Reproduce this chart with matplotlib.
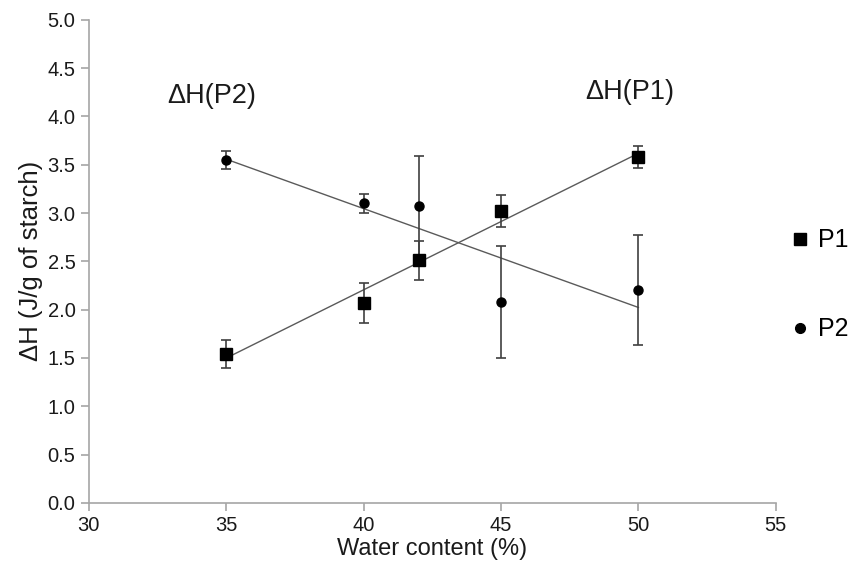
import numpy as np
import matplotlib
matplotlib.use("Agg")
import matplotlib.pyplot as plt
from matplotlib.lines import Line2D

plt.rcParams['font.family'] = ['Liberation Sans', 'DejaVu Sans']

# data
water = [35, 40, 42, 45, 50]
p1 = [1.54, 2.07, 2.51, 3.02, 3.58]
p1_err = [0.145, 0.21, 0.20, 0.165, 0.11]
p2 = [3.55, 3.10, 3.07, 2.08, 2.20]
p2_err = [0.095, 0.095, 0.52, 0.58, 0.57]

grey = '#a6a6a6'
dark = '#404040'

fig = plt.figure(figsize=(8.62, 5.65), dpi=100)
ax = fig.add_axes([0.103, 0.110, 0.797, 0.855])

# linear trend lines
xs = np.array([water[0], water[-1]])
for y in (p1, p2):
    k, b = np.polyfit(water, y, 1)
    ax.plot(xs, k * xs + b, color='#5a5a5a', lw=1.0, zorder=2)

ax.errorbar(water, p1, yerr=p1_err, fmt='s', color='black', ms=8,
            ecolor=dark, elinewidth=1.2, capsize=3.5, capthick=1.2, zorder=3)
ax.errorbar(water, p2, yerr=p2_err, fmt='o', color='black', ms=6.5,
            ecolor=dark, elinewidth=1.2, capsize=3.5, capthick=1.2, zorder=3)

ax.set_xlim(30, 55)
ax.set_ylim(0, 5)
ax.set_xticks([30, 35, 40, 45, 50, 55])
ax.set_yticks(np.arange(0, 5.01, 0.5))
ax.set_yticklabels(['%.1f' % v for v in np.arange(0, 5.01, 0.5)])

for s in ('top', 'right'):
    ax.spines[s].set_visible(False)
for s in ('left', 'bottom'):
    ax.spines[s].set_color(grey)
    ax.spines[s].set_linewidth(1.2)
ax.tick_params(colors=grey, labelcolor='#1a1a1a', labelsize=14.5,
               length=6, width=1.2, direction='out')

ax.set_xlabel('Water content (%)', fontsize=17, color='#1a1a1a', labelpad=2)
ax.set_ylabel('ΔH (J/g of starch)', fontsize=18.5, color='#1a1a1a', labelpad=3)

ax.text(32.85, 4.21, 'ΔH(P2)', fontsize=19.5, color='#1a1a1a', va='center')
ax.text(48.05, 4.25, 'ΔH(P1)', fontsize=19.5, color='#1a1a1a', va='center')

handles = [Line2D([], [], ls='none', marker='s', color='black', ms=9),
           Line2D([], [], ls='none', marker='o', color='black', ms=7)]
fig.legend(handles, ['P1', 'P2'], loc='center left',
           bbox_to_anchor=(0.908, 0.496), frameon=False, fontsize=18,
           handlelength=0.6, handletextpad=0.4, labelspacing=2.6,
           borderaxespad=0)

fig.savefig('out.png', dpi=100)
